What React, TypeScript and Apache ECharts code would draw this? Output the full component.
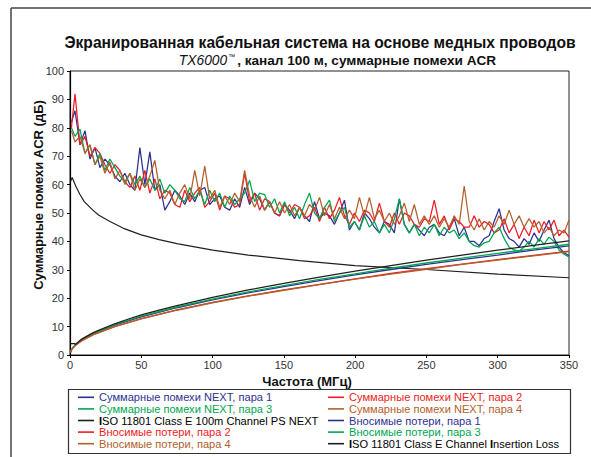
import React, { useEffect, useRef } from "react";
import * as echarts from "echarts";

// ---------- data ----------
const FREQ = [1, 3.5, 7, 10.5, 14, 17.5, 21, 24.5, 28, 31.5, 35, 38.5, 42, 45.5, 49, 52.5, 56, 59.5, 63, 66.5, 70, 73.5, 77, 80.5, 84, 87.5, 91, 94.5, 98, 101.5, 105, 108.5, 112, 115.5, 119, 122.5, 126, 129.5, 133, 136.5, 140, 143.5, 147, 150.5, 154, 157.5, 161, 164.5, 168, 171.5, 175, 178.5, 182, 185.5, 189, 192.5, 196, 199.5, 203, 206.5, 210, 213.5, 217, 220.5, 224, 227.5, 231, 234.5, 238, 241.5, 245, 248.5, 252, 255.5, 259, 262.5, 266, 269.5, 273, 276.5, 280, 283.5, 287, 290.5, 294, 297.5, 301, 304.5, 308, 311.5, 315, 318.5, 322, 325.5, 329, 332.5, 336, 339.5, 343, 346.5, 350];

const NEXT_1 = [82, 86, 74, 79, 69, 73, 66, 69, 67, 63, 61, 64, 60, 58, 73, 60, 71.5, 58, 60, 51, 54, 58, 56, 53, 57, 54, 58, 59, 53, 55, 56, 52, 51, 55, 52, 59, 53, 57, 55, 51, 54, 50, 49, 53, 51, 48, 52, 49, 47, 54, 48, 50, 49, 46, 50, 54.5, 44, 47, 44, 50, 48, 45, 43, 47, 46, 43, 55, 46, 43, 46, 44, 42, 45, 46, 43, 42, 45, 48, 42, 45, 40, 40, 38.5, 41, 42, 47, 51.5, 44, 41, 40, 38, 41, 39, 43, 40, 44, 47.5, 41, 38, 36, 35];
const NEXT_2 = [80, 92, 74, 77, 70, 73, 71, 67, 64, 67, 65, 61, 59, 63, 58, 65, 57, 62, 55, 58, 57, 53, 52, 58, 54, 57, 59, 52, 54, 57, 51, 56, 55, 52, 53, 64, 54, 57, 51, 55, 54, 50, 49, 53, 50, 53, 52, 48, 49, 52, 47, 52, 48, 51, 55.5, 49, 46, 50, 47, 51, 50, 47, 53.5, 47, 45, 50, 46, 50, 49, 46, 45, 48, 47, 54.5, 46, 49, 44, 48, 47, 45, 45, 49, 45, 47, 46, 43, 44, 48, 43, 46, 41, 45, 42, 47.5, 43, 47, 44, 47.5, 42, 44, 41.5];
const NEXT_3 = [80, 77, 79.5, 71, 74, 67, 71, 65, 69, 66, 63, 61, 64, 60, 63, 59, 62, 58, 62, 57, 60, 58, 55, 54, 59, 55, 58, 53, 58, 54, 57, 52, 56, 53, 55, 57, 61.5, 54, 57, 56.5, 52, 55, 50, 54, 49, 52, 48, 53, 57, 50, 48, 52, 54.5, 47, 50, 52, 45, 47, 44, 49, 45, 47, 43, 46, 43, 48, 55, 46, 43, 46, 42, 45, 43, 46, 42, 45, 43, 44, 41, 43, 40, 38.5, 38, 39.5, 40, 43, 45, 41, 38, 37, 36.5, 38, 40, 38, 41, 39, 41.5, 40, 37, 35.5, 34.5];
const NEXT_4 = [79, 75, 77, 71, 74, 67, 70, 64, 68, 62, 65, 60, 64, 58, 62, 59, 63, 68.5, 58, 55, 58, 53, 57, 60, 55, 65, 56, 66.5, 55, 58, 52, 56, 53, 57, 54, 65, 56, 52, 56, 51, 54, 50, 54, 50, 53, 49, 52, 49, 53, 51, 55.5, 49, 53, 48, 52, 48, 51, 48, 55.5, 49, 55.5, 48, 51, 47, 50, 46, 49, 53.5, 47, 53, 46, 49, 46, 49, 45, 48, 45, 49, 46, 59.5, 47, 44, 48, 44, 47, 45, 49, 46, 51, 46, 49, 45, 48, 45, 47, 43, 45, 42, 44, 43, 47.5];

const ISO_NEXT_FREQ = [0.3, 1.5, 4, 7, 10, 16, 20, 28, 37.5, 50, 62.5, 75, 100, 125, 161, 200, 250, 300, 350];
const ISO_NEXT = [61, 62.5, 59.5, 56.5, 54, 51, 49.3, 47, 44.6, 42.3, 40.6, 39.2, 36.9, 35.2, 33.2, 31.5, 30.1, 28.5, 27.2];

const IL_FREQ = [0.3, 1, 2, 4, 8, 16, 31.25, 50, 75, 100, 125, 150, 175, 200, 225, 250, 275, 300, 325, 350];
const IL_1 = [1.0, 1.82, 2.59, 3.67, 5.22, 7.44, 10.5, 13.44, 16.64, 19.4, 21.9, 24.1, 26.2, 28.2, 30.1, 31.9, 33.6, 35.2, 36.9, 38.4];
const IL_2 = [0.9, 1.74, 2.47, 3.49, 4.98, 7.09, 10.0, 12.8, 15.85, 18.5, 20.8, 22.9, 24.9, 26.8, 28.7, 30.4, 32.0, 33.6, 35.1, 36.6];
const IL_3 = [1.0, 1.85, 2.63, 3.72, 5.3, 7.56, 10.67, 13.65, 16.9, 19.7, 22.2, 24.4, 26.6, 28.6, 30.6, 32.4, 34.1, 35.8, 37.4, 39.0];
const IL_4 = [0.9, 1.73, 2.45, 3.47, 4.95, 7.05, 9.96, 12.73, 15.76, 18.4, 20.7, 22.8, 24.8, 26.7, 28.5, 30.2, 31.9, 33.4, 34.9, 36.4];

const ISO_IL_FREQ = [0.5, 1, 2, 3.5, 3.6, 6, 8, 10, 16, 20, 31.25, 40, 50, 62.5, 75, 100, 125, 150, 175, 200, 225, 250, 275, 300, 325, 350];
const ISO_IL = [4, 4, 4, 4, 3.6, 4.7, 5.5, 6.1, 7.8, 8.7, 11.0, 12.5, 14.1, 15.8, 17.4, 20.3, 22.9, 25.2, 27.4, 29.5, 31.5, 33.4, 35.2, 36.9, 38.6, 40.2];

const X_TICKS = [0, 50, 100, 150, 200, 250, 300, 350];
const Y_TICKS = [0, 10, 20, 30, 40, 50, 60, 70, 80, 90, 100];

const N1 = "Суммарные помехи NEXT, пара 1";
const N2 = "Суммарные помехи NEXT, пара 2";
const N3 = "Суммарные помехи NEXT, пара 3";
const N4 = "Суммарные помехи NEXT, пара 4";
const ISO_N = "ISO 11801 Class E 100m Channel PS NEXT";
const IL1 = "Вносимые потери, пара 1";
const IL2 = "Вносимые потери, пара 2";
const IL3 = "Вносимые потери, пара 3";
const IL4 = "Вносимые потери, пара 4";
const ISO_I = "ISO 11801 Class E Channel Insertion Loss";

const TITLE_1 = "Экранированная кабельная система на основе медных проводов";
const TITLE_2A = "TX6000";
const TITLE_2B = ", канал 100 м, суммарные помехи ACR";
const X_NAME = "Частота (МГц)";
const Y_NAME = "Суммарные помехи ACR (дБ)";

const BLUE = "#2e3192";
const RED = "#ed1c24";
const GREEN = "#00a651";
const BROWN = "#b1602c";
const BLACK = "#231f20";

const FONT = '"Liberation Sans", Arial, Helvetica, sans-serif';

const zip = (xs: number[], ys: number[]) => xs.map((x, i) => [x, ys[i]]);

export default function App() {
  const ref = useRef<HTMLDivElement>(null);
  useEffect(() => {
    document.body.style.margin = "0";
    if (!ref.current) return;
    const chart = echarts.init(ref.current, undefined, { renderer: "svg" });

    const line = (name: string, color: string, data: number[][], width = 1.25) => ({
      name,
      type: "line",
      data,
      symbol: "none",
      showSymbol: false,
      smooth: false,
      color,
      lineStyle: { color, width },
      emphasis: { disabled: true },
    });

    const legendFormatter = (name: string) => {
      if (!name.startsWith("ISO")) return name;
      return name
        .split(" ")
        .map((w) => (w.startsWith("I") ? `{b|I}{n|${w.slice(1)}}` : `{n|${w}}`))
        .join("{n| }");
    };

    const LF = 11.1;
    const legendBase = {
      orient: "vertical",
      top: 391.5,
      itemWidth: 16,
      itemHeight: 1.6,
      itemGap: 0,
      icon: "rect",
      selectedMode: false,
      padding: 0,
      formatter: legendFormatter,
      textStyle: {
        fontFamily: FONT,
        fontSize: LF,
        lineHeight: 11.6,
        rich: {
          b: { fontWeight: "bold", color: "#000", fontSize: LF, fontFamily: FONT, lineHeight: 11.6 },
          n: { color: "#000", fontSize: LF, fontFamily: FONT, lineHeight: 11.6 },
        },
      },
    };

    const item = (name: string, color: string) => ({ name, textStyle: { color } });

    chart.setOption({
      animation: false,
      backgroundColor: "#fff",
      grid: { left: 70, right: 22, top: 71, bottom: 102, show: true, borderColor: "#222", borderWidth: 1 },
      xAxis: {
        type: "value",
        min: X_TICKS[0],
        max: X_TICKS[X_TICKS.length - 1],
        interval: 50,
        axisLine: { lineStyle: { color: "#000", width: 1.2 } },
        axisTick: { show: true, length: 3, lineStyle: { color: "#000" } },
        axisLabel: { color: "#333", fontSize: 11, fontFamily: FONT, margin: 4 },
        splitLine: { show: false },
      },
      yAxis: {
        type: "value",
        min: Y_TICKS[0],
        max: Y_TICKS[Y_TICKS.length - 1],
        interval: 10,
        axisLine: { show: true, lineStyle: { color: "#000", width: 1.2 } },
        axisTick: { show: true, length: 3, lineStyle: { color: "#000" } },
        axisLabel: { color: "#333", fontSize: 11, fontFamily: FONT, margin: 6 },
        splitLine: { show: false },
      },
      legend: [
        { ...legendBase, left: 78, data: [item(N1, BLUE), item(N3, GREEN), item(ISO_N, BLACK), item(IL2, RED), item(IL4, BROWN)] },
        { ...legendBase, left: 328, data: [item(N2, RED), item(N4, BROWN), item(IL1, BLUE), item(IL3, GREEN), item(ISO_I, BLACK)] },
      ],
      series: [
        line(N1, BLUE, zip(FREQ, NEXT_1)),
        line(N2, RED, zip(FREQ, NEXT_2)),
        line(N3, GREEN, zip(FREQ, NEXT_3)),
        line(N4, BROWN, zip(FREQ, NEXT_4)),
        line(ISO_N, BLACK, zip(ISO_NEXT_FREQ, ISO_NEXT), 1.2),
        line(IL1, BLUE, zip(IL_FREQ, IL_1), 1.3),
        line(IL2, RED, zip(IL_FREQ, IL_2), 1.3),
        line(IL3, GREEN, zip(IL_FREQ, IL_3), 1.3),
        line(IL4, BROWN, zip(IL_FREQ, IL_4), 1.3),
        line(ISO_I, BLACK, zip(ISO_IL_FREQ, ISO_IL), 1.3),
      ],
      graphic: [
        { type: "line", shape: { x1: 11, y1: 8, x2: 591, y2: 8 }, style: { stroke: "#444", lineWidth: 1.5 } },
        { type: "line", shape: { x1: 11, y1: 8, x2: 11, y2: 457 }, style: { stroke: "#444", lineWidth: 1.5 } },
        { type: "rect", shape: { x: 68.5, y: 389.5, width: 502, height: 64 }, style: { fill: "none", stroke: "#333", lineWidth: 1.2 } },
        {
          type: "text",
          x: 320,
          y: 42,
          style: { text: TITLE_1, align: "center", verticalAlign: "middle", fill: "#111", font: `bold 15.6px ${FONT}` },
        },
        {
          type: "text",
          x: 337.5,
          y: 60,
          style: {
            text: `{i|${TITLE_2A}}{tm|™}{b|${TITLE_2B}}`,
            align: "center",
            verticalAlign: "middle",
            fill: "#111",
            rich: {
              i: { fontStyle: "italic", fontWeight: "normal", fontSize: 13.8, fontFamily: FONT, fill: "#111" },
              tm: { fontSize: 7, fontFamily: FONT, fill: "#111", padding: [0, 2, 8, 1] },
              b: { fontWeight: "bold", fontSize: 13.6, fontFamily: FONT, fill: "#111" },
            },
          },
        },
        {
          type: "text",
          x: 307,
          y: 381,
          style: { text: X_NAME, align: "center", verticalAlign: "middle", fill: "#111", font: `bold 13px ${FONT}` },
        },
        {
          type: "text",
          x: 38,
          y: 195,
          rotation: Math.PI / 2,
          style: { text: Y_NAME, align: "center", verticalAlign: "middle", fill: "#111", font: `bold 13px ${FONT}` },
        },
      ],
    });
    return () => chart.dispose();
  }, []);
  return <div ref={ref} style={{ width: 591, height: 457 }} />;
}
